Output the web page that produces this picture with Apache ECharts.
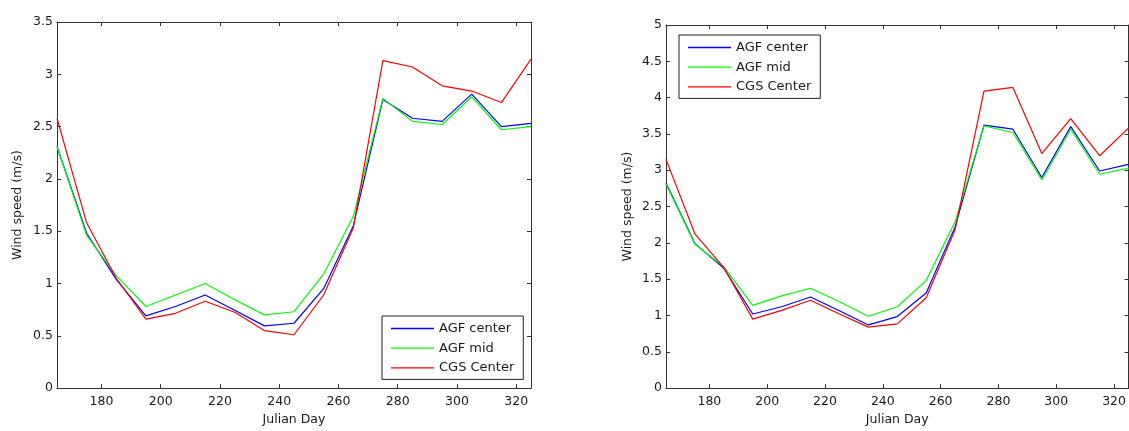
<!DOCTYPE html>
<html>
<head>
<meta charset="utf-8">
<script src="https://cdn.jsdelivr.net/npm/echarts@6/dist/echarts.min.js"></script>
<style>
html,body{margin:0;padding:0;background:#fff;}
#c{width:1129px;height:431px;}
</style>
</head>
<body>
<div id="c"></div>
<script>
// Data
const days = [165,175,185,195,205,215,225,235,245,255,265,275,285,295,305,315,325];
const xTicks = [180,200,220,240,260,280,300,320];
const seriesNames = ['AGF center','AGF mid','CGS Center'];
const seriesColors = ['#0000ff','#00ff00','#ff0000'];

const agfCenterL = [2.31,1.48,1.04,0.69,0.78,0.89,0.745,0.595,0.62,0.95,1.55,2.76,2.58,2.55,2.81,2.50,2.53];
const agfMidL    = [2.31,1.46,1.075,0.78,0.89,1.00,0.845,0.70,0.73,1.09,1.64,2.77,2.55,2.52,2.785,2.47,2.50];
const cgsCenterL = [2.58,1.58,1.05,0.66,0.715,0.83,0.725,0.55,0.51,0.89,1.53,3.13,3.07,2.89,2.84,2.73,3.145];

const agfCenterR = [2.825,1.99,1.65,1.02,1.12,1.255,1.065,0.87,0.985,1.31,2.22,3.62,3.565,2.90,3.60,2.99,3.08];
const agfMidR    = [2.81,1.98,1.67,1.14,1.27,1.375,1.19,0.99,1.12,1.48,2.29,3.61,3.52,2.865,3.565,2.945,3.03];
const cgsCenterR = [3.15,2.125,1.66,0.95,1.07,1.21,1.02,0.84,0.885,1.245,2.18,4.09,4.14,3.23,3.71,3.20,3.58];

const leftMax = 3.5, rightMax = 5;

const FONT = 'DejaVu Sans';
const TXT = '#1a1a1a';
const AX = '#333';

function pairs(vals){ return days.map((d,i)=>[d, vals[i]]); }

function xAxes(gi){
  const base = {
    type:'value', gridIndex:gi, min:165, max:325,
    splitLine:{show:false},
    axisLine:{show:true, onZero:false, lineStyle:{color:AX, width:1}},
    axisTick:{show:true, inside:true, length:4, customValues:xTicks, lineStyle:{color:AX}},
  };
  return [
    Object.assign({}, base, {
      position:'bottom',
      name:'Julian Day', nameLocation:'middle', nameGap:23,
      nameTextStyle:{fontFamily:FONT, fontSize:12.5, color:TXT},
      axisLabel:{show:true, customValues:xTicks, margin:7, fontFamily:FONT, fontSize:12.5, color:TXT}
    }),
    Object.assign({}, base, {position:'top', axisLabel:{show:false}})
  ];
}
function yAxes(gi, max, gap){
  const base = {
    type:'value', gridIndex:gi, min:0, max:max, interval:0.5,
    splitLine:{show:false},
    axisLine:{show:true, onZero:false, lineStyle:{color:AX, width:1}},
    axisTick:{show:true, inside:true, length:4, lineStyle:{color:AX}},
  };
  return [
    Object.assign({}, base, {
      position:'left',
      name:'Wind speed (m/s)', nameLocation:'middle', nameGap:gap, nameRotate:90,
      nameTextStyle:{fontFamily:FONT, fontSize:12.5, color:TXT},
      axisLabel:{show:true, margin:4, fontFamily:FONT, fontSize:12.5, color:TXT}
    }),
    Object.assign({}, base, {position:'right', axisLabel:{show:false}})
  ];
}

function mkSeries(vals, idx, xi, yi){
  return {
    type:'line', name:seriesNames[idx], xAxisIndex:xi, yAxisIndex:yi,
    data:pairs(vals), symbol:'none', showSymbol:false, animation:false,
    lineStyle:{color:seriesColors[idx], width:1.2},
    itemStyle:{color:seriesColors[idx]}
  };
}

function legend(left, top){
  return {
    orient:'vertical', left:left, top:top,
    data:seriesNames,
    icon:'path://M0,0H43V1.3H0Z', symbolKeepAspect:true,
    itemWidth:43, itemHeight:14, itemGap:6.7, itemTextGap:4,
    padding:[6,9,5,9],
    borderColor:'#222', borderWidth:1, backgroundColor:'#fff',
    textStyle:{fontFamily:FONT, fontSize:13, color:TXT},
    selectedMode:false
  };
}

const chart = echarts.init(document.getElementById('c'), null, {renderer:'canvas'});
chart.setOption({
  animation:false,
  backgroundColor:'#fff',
  grid:[
    {left:57, top:22, width:474, height:372},
    {left:666, top:25, width:470, height:369}
  ],
  xAxis:[...xAxes(0), ...xAxes(1)],
  yAxis:[...yAxes(0, leftMax, 33), ...yAxes(1, rightMax, 32)],
  legend:[legend(382, 316), legend(679, 35)],
  series:[
    mkSeries(agfCenterL,0,0,0), mkSeries(agfMidL,1,0,0), mkSeries(cgsCenterL,2,0,0),
    mkSeries(agfCenterR,0,2,2), mkSeries(agfMidR,1,2,2), mkSeries(cgsCenterR,2,2,2)
  ]
});
</script>
</body>
</html>
